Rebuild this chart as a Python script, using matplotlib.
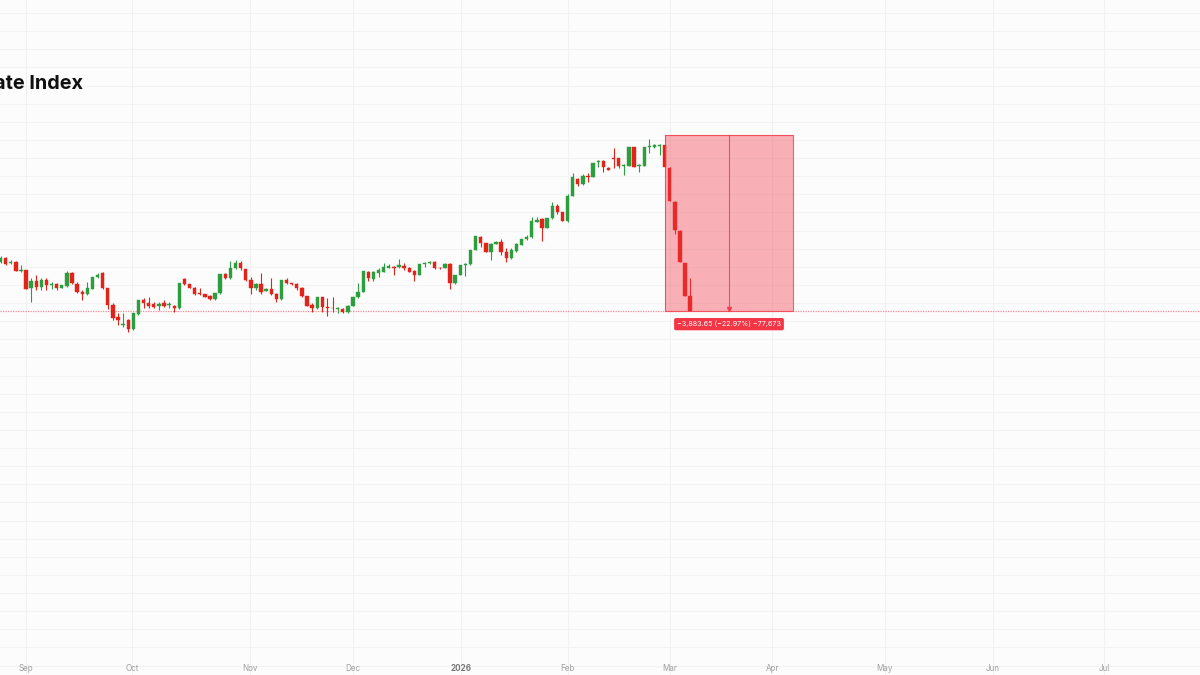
import matplotlib.pyplot as plt
import numpy as np

# daily candles (index points)
opens = [14106, 14194, 14077, 14112, 13907, 13929, 13525, 13686, 13547, 13708,
         13607, 13620, 13539, 13582, 13863, 13620, 13450, 13393, 13517, 13768,
         13863, 13525, 13157, 12898, 12722, 12826, 12627, 12958, 13267, 13194,
         13179, 13126, 13194, 13157, 13141, 13084, 13730, 13620, 13539, 13428,
         13399, 13362, 13289, 13415, 13840, 13746, 13967, 14077, 13944, 13708,
         13525, 13620, 13466, 13503, 13393, 13289, 13708, 13635, 13613, 13539,
         13355, 13157, 13084, 13326, 13118, 13097, 13077, 13077, 12995, 13141,
         13326, 13450, 13892, 13730, 13856, 13892, 13980, 14002, 13988, 14024,
         13980, 13907, 13818, 14071, 14077, 14112, 13980, 13980, 14055, 13635,
         13818, 14040, 14055, 14370, 14664, 14518, 14332, 14503, 14553, 14332,
         14187, 14355, 14481, 14606, 14651, 14995, 15048, 14863, 15070, 15348,
         15202, 15011, 15569, 15931, 15820, 16010, 15988, 16306, 16342, 16187,
         16408, 16395, 16225, 16231, 16637, 16225, 16231, 16637, 16651, 16675,
         16688, 16187, 15436, 14797, 14077, 13362]
highs = [14238, 14216, 14150, 14128, 14040, 13935, 13746, 13818, 13746, 13759,
         13664, 13642, 13609, 13907, 13892, 13671, 13488, 13671, 13781, 13856,
         13892, 13539, 13194, 12973, 12973, 12848, 12980, 13278, 13304, 13340,
         13223, 13230, 13267, 13223, 13157, 13642, 13759, 13631, 13547, 13539,
         13404, 13377, 13421, 13848, 13856, 14128, 14150, 14128, 13951, 13781,
         13642, 13856, 13521, 13746, 13415, 13719, 13746, 13642, 13640, 13547,
         13362, 13194, 13333, 13340, 13304, 13340, 13118, 13090, 13150, 13333,
         13635, 13914, 13907, 13907, 13967, 14077, 14055, 14024, 14172, 14077,
         13989, 13929, 14068, 14112, 14121, 14121, 13989, 14077, 14077, 13825,
         14046, 14077, 14377, 14686, 14679, 14525, 14518, 14562, 14606, 14408,
         14408, 14518, 14613, 14701, 15106, 15106, 15070, 15077, 15436, 15379,
         15209, 15600, 16063, 15953, 16041, 16063, 16291, 16357, 16357, 16196,
         16628, 16408, 16262, 16644, 16644, 16262, 16644, 16820, 16710, 16703,
         16695, 16196, 15445, 14805, 14084, 13752]
lows = [14083, 14040, 14051, 13907, 13896, 13499, 13223, 13488, 13488, 13488,
        13510, 13488, 13521, 13560, 13620, 13415, 13267, 13377, 13510, 13759,
        13510, 13068, 12826, 12715, 12678, 12567, 12616, 12947, 13097, 13084,
        13084, 13038, 13106, 13084, 13009, 13075, 13598, 13532, 13388, 13377,
        13333, 13278, 13278, 13406, 13730, 13737, 13951, 13929, 13697, 13393,
        13488, 13393, 13455, 13377, 13230, 13278, 13613, 13598, 13488, 13344,
        13134, 13009, 13075, 13009, 12921, 13009, 12973, 12980, 12986, 13134,
        13304, 13444, 13686, 13686, 13781, 13878, 13967, 13818, 13967, 13929,
        13885, 13686, 13811, 14002, 14062, 13958, 13958, 13967, 13510, 13626,
        13811, 13803, 14046, 14363, 14443, 14326, 14150, 14496, 14260, 14112,
        14172, 14332, 14474, 14591, 14629, 14982, 14569, 14856, 15055, 15158,
        15011, 14996, 15556, 15790, 15805, 15878, 15981, 16209, 16098, 16129,
        16187, 16174, 16026, 16225, 16203, 16085, 16225, 16505, 16615, 16467,
        16203, 15452, 14724, 14106, 13355, 13017]
closes = [14194, 14055, 14112, 13914, 13929, 13510, 13686, 13547, 13708, 13598,
          13620, 13539, 13598, 13863, 13642, 13450, 13393, 13525, 13774, 13818,
          13525, 13157, 12876, 12826, 12744, 12620, 12973, 13267, 13194, 13134,
          13120, 13179, 13141, 13170, 13084, 13635, 13620, 13539, 13399, 13399,
          13340, 13289, 13415, 13840, 13746, 13967, 14077, 13967, 13708, 13525,
          13620, 13450, 13503, 13393, 13289, 13708, 13635, 13613, 13539, 13355,
          13141, 13084, 13326, 13106, 13084, 13084, 13090, 12995, 13141, 13326,
          13450, 13907, 13746, 13892, 13929, 14002, 14018, 13980, 14040, 13967,
          13892, 13818, 14062, 14084, 14112, 13967, 13967, 14055, 13635, 13818,
          14040, 14062, 14370, 14679, 14518, 14332, 14503, 14553, 14332, 14187,
          14370, 14496, 14606, 14664, 15011, 15033, 14863, 15070, 15348, 15202,
          15018, 15569, 15988, 15820, 16010, 15975, 16284, 16335, 16209, 16136,
          16386, 16231, 16240, 16637, 16209, 16240, 16637, 16666, 16688, 16688,
          16209, 15459, 14812, 14112, 13362, 13024]

# time axis: bar index of each month start
month_pos = [4.9, 25.8, 48.9, 69.0, 90.1, 111.0, 131.0, 151.1, 173.1, 194.2, 216.1]
month_labels = ['Sep', 'Oct', 'Nov', 'Dec', '2026', 'Feb', 'Mar', 'Apr', 'May', 'Jun', 'Jul']

# price range drawing
range_top = 16907.65
range_bottom = 13024.0
range_start = 130
range_end = 155.2
range_label = '\u22123,883.65 (\u221222.97%) \u221277,673'
title = 'KOSPI Real Estate Index'

GREEN = '#2e9d3f'
RED = '#e2231a'
TV_RED = '#f23645'

plt.rcParams['font.family'] = ['Inter', 'DejaVu Sans']

fig = plt.figure(figsize=(12, 6.75), dpi=100, facecolor='#fcfcfc')
ax = fig.add_axes([0, 0, 1, 1])
ax.set_facecolor('#fcfcfc')

o = np.array(opens)
h = np.array(highs)
l = np.array(lows)
c = np.array(closes)
x = np.arange(len(o))
up = c >= o
cols = np.where(up, GREEN, RED)

# grid
for p in np.arange(5200, 19900, 400):
    ax.axhline(p, color='#f3f3f3', lw=0.8, zorder=0)
for p in month_pos:
    ax.axvline(p, color='#f1f1f1', lw=0.8, zorder=0)

ax.vlines(x, l, h, colors=cols, lw=0.8, zorder=3)
ax.bar(x, np.maximum(np.abs(c - o), 8), bottom=np.minimum(o, c), width=0.66,
       color=cols, edgecolor=cols, lw=0.3, zorder=4)

# last price line
ax.axhline(closes[-1], color=TV_RED, lw=0.9, ls=(0, (1, 1)), alpha=0.55, zorder=2)

# range box
ax.fill_between([range_start, range_end], range_bottom, range_top,
                color=TV_RED, alpha=0.38, lw=0, zorder=5)
ax.plot([range_start, range_end, range_end, range_start, range_start],
        [range_top, range_top, range_bottom, range_bottom, range_top],
        color=TV_RED, lw=0.8, alpha=0.8, zorder=6)
mid = (range_start + range_end) / 2
ax.plot([mid, mid], [range_bottom, range_top], color=TV_RED, lw=0.8, alpha=0.8, zorder=6)
ax.plot(mid, range_bottom + 40, marker='v', ms=3, color=TV_RED, alpha=0.8, zorder=6)
ax.text(mid, range_bottom - 290, range_label, ha='center', va='center', fontsize=5.2,
        color='white', zorder=7,
        bbox=dict(boxstyle='round,pad=0.4,rounding_size=0.25', fc=TV_RED, ec='none'))

ax.set_xlim(-0.1, 234.8)
ax.set_ylim(4991, 19888)
ax.axis('off')

for p, lab in zip(month_pos, month_labels):
    bold = lab.isdigit()
    ax.text(p, 5140, lab, ha='center', va='center', fontsize=5.8,
            color='#777777' if bold else '#a0a0a0',
            fontweight='bold' if bold else 'normal')

fig.text(83 / 1200, 1 - 89 / 675, title, ha='right', va='baseline',
         fontsize=14.3, fontweight='bold', color='#111111')

fig.savefig('out.png', dpi=100, facecolor=fig.get_facecolor())
